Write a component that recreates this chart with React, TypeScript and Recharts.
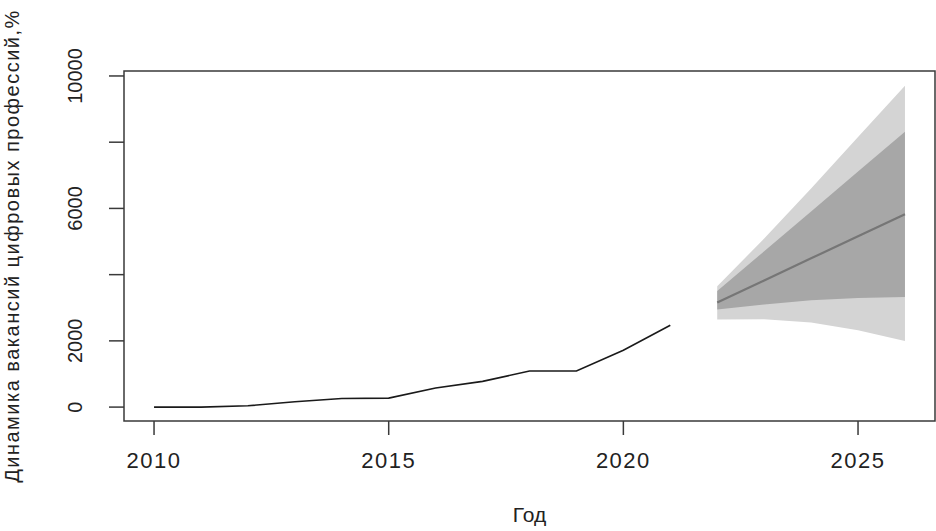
import React from 'react';
import { ComposedChart, Line, Area, XAxis, YAxis, ReferenceArea } from 'recharts';

// observed series
const years = [2010, 2011, 2012, 2013, 2014, 2015, 2016, 2017, 2018, 2019, 2020, 2021];
const vacancies = [0, 0, 40, 160, 260, 270, 575, 777, 1089, 1089, 1715, 2470];

// forecast
const forecastYears = [2022, 2023, 2024, 2025, 2026];
const pointForecast = [3157, 3825, 4492, 5160, 5827];
const lo80 = [2945, 3096, 3226, 3297, 3327];
const hi80 = [3508, 4706, 5908, 7118, 8316];
const lo95 = [2643, 2652, 2552, 2319, 1996];
const hi95 = [3650, 5090, 6600, 8160, 9707];

const xTicks = [2010, 2015, 2020, 2025];
const yTicks = [0, 2000, 4000, 6000, 8000, 10000];
const yLabelled = [0, 2000, 6000, 10000];

const X_DOMAIN: [number, number] = [2009.36, 2026.64];
const Y_DOMAIN: [number, number] = [-420, 10150];

const histData = years.map((year, i) => ({ year, value: vacancies[i] }));
const fcData = forecastYears.map((year, i) => ({
    year,
    mean: pointForecast[i],
    band80: [lo80[i], hi80[i]],
    band95: [lo95[i], hi95[i]],
}));

const FONT = '"Liberation Sans", Arial, sans-serif';
const INK = '#222';
const AXIS = '#3a3a3a';

const XTick = (props: any) => {
    const { x, y, payload } = props;
    return (
        <text x={x} y={y} dy="0.71em" textAnchor="middle" fontSize={22} letterSpacing={1.5}
            fontFamily={FONT} fill={INK}>
            {payload.value}
        </text>
    );
};

const YTick = (props: any) => {
    const { x, y, payload } = props;
    if (!yLabelled.includes(payload.value)) return <g />;
    return (
        <text x={x} y={y} transform={`rotate(-90, ${x}, ${y})`} textAnchor="middle"
            fontSize={20} fontFamily={FONT} fill={INK}>
            {payload.value}
        </text>
    );
};

const YTitle = (props: any) => {
    const vb = props.viewBox;
    const cy = vb.y + vb.height / 2;
    return (
        <text x={19} y={cy} transform={`rotate(-90, 19, ${cy})`} textAnchor="middle"
            fontSize={20} letterSpacing={1.5} fontFamily={FONT} fill={INK}>
            Динамика вакансий цифровых профессий,%
        </text>
    );
};

const XTitle = (props: any) => {
    const vb = props.viewBox;
    return (
        <text x={vb.x + vb.width / 2} y={522} textAnchor="middle"
            fontSize={21} fontFamily={FONT} fill={INK}>
            Год
        </text>
    );
};

export default function App() {
    return (
        <div style={{ position: 'absolute', left: 0, top: 0, background: '#fff' }}>
            <ComposedChart width={936} height={531} margin={{ top: 71, right: 1, bottom: 0, left: 0 }}>
                <XAxis xAxisId="x" dataKey="year" type="number" domain={X_DOMAIN}
                    allowDataOverflow ticks={xTicks} height={110} tickSize={14} tickMargin={17}
                    axisLine={false} tickLine={{ stroke: AXIS, strokeWidth: 1.5 }}
                    tick={<XTick />} label={<XTitle />} />
                <YAxis yAxisId="y" type="number" domain={Y_DOMAIN} allowDataOverflow
                    ticks={yTicks} width={124} tickSize={15} tickMargin={27}
                    axisLine={false} tickLine={{ stroke: AXIS, strokeWidth: 1.5 }}
                    tick={<YTick />} label={<YTitle />} />

                <Area xAxisId="x" yAxisId="y" data={fcData} dataKey="band95" type="linear"
                    stroke="none" fill="#d4d4d4" fillOpacity={1} isAnimationActive={false} />
                <Area xAxisId="x" yAxisId="y" data={fcData} dataKey="band80" type="linear"
                    stroke="none" fill="#a7a7a7" fillOpacity={1} isAnimationActive={false} />
                <Line xAxisId="x" yAxisId="y" data={fcData} dataKey="mean" type="linear"
                    stroke="#767676" strokeWidth={2.2} dot={false} isAnimationActive={false} />
                <Line xAxisId="x" yAxisId="y" data={histData} dataKey="value" type="linear"
                    stroke="#1a1a1a" strokeWidth={1.6} dot={false} isAnimationActive={false} />

                {/* plot frame (R's box) */}
                <ReferenceArea xAxisId="x" yAxisId="y" x1={X_DOMAIN[0]} x2={X_DOMAIN[1]}
                    y1={Y_DOMAIN[0]} y2={Y_DOMAIN[1]} ifOverflow="visible"
                    fill="none" fillOpacity={0} stroke={AXIS} strokeWidth={1.5} />
            </ComposedChart>
        </div>
    );
}
